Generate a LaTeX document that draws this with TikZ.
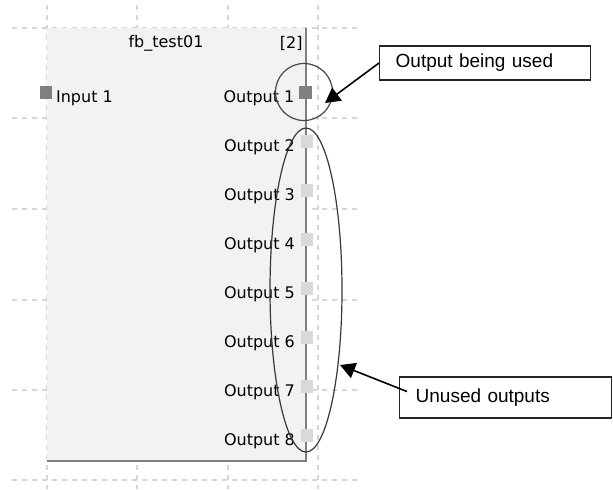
\documentclass[tikz,border=0pt]{standalone}
\usepackage{fontspec}
\setmainfont{Liberation Sans}
\newfontfamily\guifont{DejaVu Sans}
\usepackage{tikz}
\usetikzlibrary{arrows.meta,positioning,shapes.geometric}
\definecolor{GridC}{RGB}{214,214,214}
\definecolor{BlockC}{RGB}{242,242,242}
\definecolor{EdgeC}{RGB}{128,128,128}
\definecolor{UsedC}{RGB}{128,128,128}
\definecolor{FreeC}{RGB}{217,217,217}
\definecolor{RingC}{RGB}{70,70,70}
\tikzset{
  grid/.style={GridC,dashed,dash pattern=on 2.5pt off 2.5pt,line width=0.6pt},
  fbblock/.style={fill=BlockC,draw=white!90!gray,line width=0.5pt,inner sep=0pt,
                  minimum width=129pt,minimum height=216pt,anchor=north west},
  fbedge/.style={EdgeC,line width=1pt},
  guitext/.style={font=\guifont\fontsize{8}{9}\selectfont,inner sep=0pt},
  port/.style={rectangle,inner sep=0pt,minimum size=6.3pt},
  portused/.style={port,fill=UsedC},
  portfree/.style={port,fill=FreeC},
  ring/.style={draw=RingC,line width=0.6pt},
  callout/.style={draw=black!85,line width=0.7pt,fill=white,anchor=west,
                  inner xsep=8pt,inner ysep=0pt,align=left,
                  font=\fontsize{9.5}{11}\selectfont},
  callarrow/.style={-{Triangle[length=7.5pt,width=8pt]},line width=0.8pt,black},
}
\begin{document}
\begin{tikzpicture}[x=0.5pt,y=-0.5pt]
  \useasboundingbox (0,0) rectangle (613,489);
  % background grid
  \foreach \gx in {47,137,228,318}
    \draw[grid] (\gx,5) -- (\gx,489);
  \foreach \gy in {28,118,209,300,390,480}
    \draw[grid] (12,\gy) -- (362,\gy);
  % function block
  \node[fbblock] (fb) at (47,28) {};
  \draw[fbedge] (fb.north east) -- (fb.south east) -- (fb.south west);
  \node[guitext] (title) at (166,43) {fb\_test01};
  \node[guitext,anchor=east] (idx) at (303,43) {[2]};
  % ports
  \node[portused] (in1) at (46,92.5) {};
  \node[guitext,right=1.5pt of in1,yshift=-2.8pt] (in1lbl) {Input 1};
  \node[portused] (out1) at (305.5,92.5) {};
  \node[guitext,left=2pt of out1,yshift=-2.8pt] (out1lbl) {Output 1};
  \foreach \i in {2,...,8}{
    \node[portfree] (out\i) at (307,{92.5+49*(\i-1)}) {};
    \node[guitext,left=2.5pt of out\i,yshift=-2.8pt] (out\i lbl) {Output \i};
  }
  % markers
  \node[ring,circle,minimum size=28.5pt,inner sep=0pt] (usedring) at (304,92) {};
  \node[ring,ellipse,minimum width=36pt,minimum height=162pt,inner sep=0pt,
        draw=RingC!80!black] (freering) at (306,290) {};
  % callouts
  \node[callout,minimum width=105.5pt,minimum height=17pt,text width=89.5pt]
    (usedbox) at (379,63) {Output being used};
  \node[callout,minimum width=106pt,minimum height=20.5pt,text width=90pt]
    (freebox) at (399,397.5) {Unused outputs};
  \coordinate (usedtip) at (325,103);
  \coordinate (freetip) at (340,365);
  \draw[callarrow] (usedbox.west) -- (usedtip);
  \draw[callarrow] ([xshift=4pt,yshift=3pt]freebox.west) -- (freetip);
\end{tikzpicture}
\end{document}
